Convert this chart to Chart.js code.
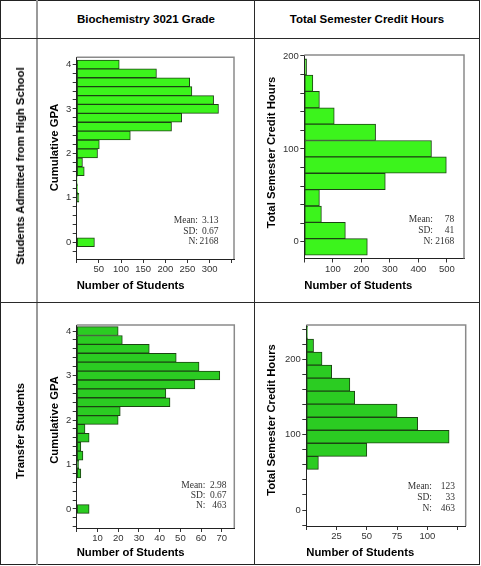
<!DOCTYPE html>
<html>
<head>
<meta charset="utf-8">
<title>Cumulative GPA and credit hours</title>
<script src="https://cdn.jsdelivr.net/npm/chart.js@4.4.0/dist/chart.umd.min.js"></script>
<style>
  html, body { margin: 0; padding: 0; background: #fff; }
  body { width: 481px; height: 566px; overflow: hidden; font-family: "Liberation Sans", Arial, sans-serif; }
  #sheet { position: relative; width: 481px; height: 566px; }
  .frame { position: absolute; left: 0; top: 0; width: 478px; height: 563px; border: 1px solid #222; }
  .line { position: absolute; background: #2a2a2a; }
  .col-title { position: absolute; top: 12px; line-height: 14px; text-align: center; font-weight: bold; font-size: 11.5px; color: #000; }
  .row-title { position: absolute; left: 20px; font-weight: bold; font-size: 11.3px; color: #000; white-space: nowrap;
               will-change: transform; transform: translate(-50%, -50%) rotate(-90deg); }
  canvas { position: absolute; }
</style>
</head>
<body>
<div id="sheet">
  <div class="frame"></div>
  <div class="line" style="left:36px;top:0;width:2px;height:565px;background:#9a9a9a"></div>
  <div class="line" style="left:254px;top:0;width:1px;height:565px"></div>
  <div class="line" style="left:0;top:38px;width:480px;height:1px"></div>
  <div class="line" style="left:0;top:302px;width:480px;height:1px"></div>

  <div class="col-title" style="left:38px;width:216px">Biochemistry 3021 Grade</div>
  <div class="col-title" style="left:255px;width:224px">Total Semester Credit Hours</div>
  <div class="row-title" style="top:166px">Students Admitted from High School</div>
  <div class="row-title" style="top:431px">Transfer Students</div>

  <canvas id="hs-gpa" width="215" height="262" style="left:39px;top:39px"></canvas>
  <canvas id="hs-credit" width="222" height="262" style="left:256px;top:39px"></canvas>
  <canvas id="tr-gpa" width="215" height="261" style="left:39px;top:303px"></canvas>
  <canvas id="tr-credit" width="222" height="261" style="left:256px;top:303px"></canvas>
</div>

<script>
// ---------------------------------------------------
// Data (bin centres + student counts per bin)
// ---------------------------------------------------
const gpaBins = [4.0, 3.8, 3.6, 3.4, 3.2, 3.0, 2.8, 2.6, 2.4, 2.2, 2.0, 1.8, 1.6, 1.4, 1.2, 1.0, 0.8, 0.0];
const hsGpaCounts = [96, 180, 255, 260, 309, 320, 237, 214, 121, 51, 47, 13, 17, 1, 2, 5, null, 40];
const trGpaCounts = [20, 22, 35, 48, 59, 69, 57, 43, 45, 21, 20, 4, 6, 2, 3, 1, 2, 6];

const hsCreditBins = [188.2, 170.6, 153.0, 135.4, 117.8, 100.2, 82.6, 65.0, 47.4, 29.8, 12.2, -5.4];
const hsCreditCounts = [8, 30, 53, 105, 250, 446, 498, 284, 53, 60, 144, 221];

const trCreditBins = [235.6, 218.3, 201.0, 183.7, 166.4, 149.1, 131.8, 114.5, 97.2, 79.9, 62.6];
const trCreditCounts = [1, 6, 13, 21, 36, 40, 75, 92, 118, 50, 10];

// tick labels that are actually printed
const gpaTickLabels = [0, 1, 2, 3, 4];
const creditTickLabels = [0, 100, 200];
const hsGpaCountLabels = [50, 100, 150, 200, 250, 300];
const hsCreditCountLabels = [100, 200, 300, 400, 500];
const trGpaCountLabels = [10, 20, 30, 40, 50, 60, 70];
const trCreditCountLabels = [25, 50, 75, 100];

// summary boxes
const statNames = ['Mean:', 'SD:', 'N:'];
const hsGpaStats = ['3.13', '0.67', '2168'];
const hsCreditStats = ['78', '41', '2168'];
const trGpaStats = ['2.98', '0.67', '463'];
const trCreditStats = ['123', '33', '463'];

// ---------------------------------------------------
Chart.defaults.font.family = '"Liberation Sans", Arial, sans-serif';
Chart.defaults.color = '#333';

const labelFor = (v, list) => {
  const hit = list.find(t => Math.abs(t - v) < 1e-6);
  return hit === undefined ? '' : String(hit);
};

// grey box on top/right, rotated y title and the stats text
const panelDeco = {
  id: 'panelDeco',
  afterDraw(chart, args, o) {
    const { ctx, chartArea: a } = chart;
    ctx.save();
    ctx.strokeStyle = '#8a8a8a';
    ctx.lineWidth = 1.5;
    ctx.beginPath();
    ctx.moveTo(a.left, a.top);
    ctx.lineTo(a.right, a.top);
    ctx.lineTo(a.right, a.bottom);
    ctx.stroke();

    ctx.fillStyle = '#000';
    ctx.font = 'bold 11.3px "Liberation Sans", Arial, sans-serif';
    ctx.textAlign = 'center';
    ctx.textBaseline = 'middle';
    ctx.translate(o.yTitleX, o.yTitleY);
    ctx.rotate(-Math.PI / 2);
    ctx.fillText(o.yTitle, 0, 0);
    ctx.setTransform(1, 0, 0, 1, 0, 0);

    ctx.font = '9.5px "Liberation Serif", "Times New Roman", serif';
    ctx.fillStyle = '#333';
    ctx.textAlign = 'right';
    statNames.forEach((name, i) => {
      ctx.fillText(name, o.labelRight, o.rows[i]);
      ctx.fillText(o.stats[i], o.valueRight, o.rows[i]);
    });
    ctx.restore();
  }
};

const makePanel = (id, c) => new Chart(document.getElementById(id), {
  type: 'bar',
  data: {
    datasets: [{
      data: c.bins.map((b, i) => ({ y: b, x: c.counts[i] })),
      backgroundColor: c.fill,
      borderColor: '#1c4413',
      borderWidth: 1,
      borderSkipped: false,
      barPercentage: 1,
      categoryPercentage: 1
    }]
  },
  options: {
    indexAxis: 'y',
    responsive: false,
    animation: false,
    layout: { padding: c.pad },
    plugins: {
      legend: { display: false },
      tooltip: { enabled: false },
      panelDeco: c.deco
    },
    scales: {
      y: {
        type: 'linear',
        min: c.yMin,
        max: c.yMax,
        offset: false,
        afterFit: (s) => { s.width = c.yWidth; },
        grid: { offset: false, drawOnChartArea: false, tickLength: 4, tickColor: '#333' },
        border: { color: '#222', width: 1 },
        ticks: {
          stepSize: c.yStep, autoSkip: false, includeBounds: false, padding: 1.5,
          font: { size: 9.5 }, color: '#333',
          callback: (v) => labelFor(v, c.yLabels)
        }
      },
      x: {
        type: 'linear',
        min: 0,
        max: c.xMax,
        afterFit: (s) => { s.height = c.xHeight; },
        grid: { drawOnChartArea: false, tickLength: 4, tickColor: '#333' },
        border: { color: '#222', width: 1 },
        ticks: {
          stepSize: c.xStep, autoSkip: false, includeBounds: false, maxRotation: 0, padding: 1,
          font: { size: 9.5 }, color: '#333',
          callback: (v) => labelFor(v, c.xLabels)
        },
        title: {
          display: true, text: 'Number of Students', align: 'start', color: '#000',
          font: { size: 11.3, weight: 'bold', lineHeight: 1.2 },
          padding: { top: 0, bottom: c.xTitlePad }
        }
      }
    }
  },
  plugins: [panelDeco]
});

const topFill = '#3cf41c';
const bottomFill = '#2bcc22';

makePanel('hs-gpa', {
  bins: gpaBins, counts: hsGpaCounts, fill: topFill,
  pad: { left: 0, top: 18.3, right: 20, bottom: 0 },
  yWidth: 37.7, xHeight: 42, xTitlePad: 8.2,
  yMin: -0.375, yMax: 4.16, yStep: 0.2, yLabels: gpaTickLabels,
  xMax: 355, xStep: 50, xLabels: hsGpaCountLabels,
  deco: { yTitle: 'Cumulative GPA', yTitleX: 16, yTitleY: 108.5,
          stats: hsGpaStats, labelRight: 159, valueRight: 179.5, rows: [181, 192, 202.7] }
});

makePanel('hs-credit', {
  bins: hsCreditBins, counts: hsCreditCounts, fill: topFill,
  pad: { left: 0, top: 16, right: 14, bottom: 0 },
  yWidth: 48.3, xHeight: 42.5, xTitlePad: 8.2,
  yMin: -17.9, yMax: 201, yStep: 20, yLabels: creditTickLabels,
  xMax: 560, xStep: 100, xLabels: hsCreditCountLabels,
  deco: { yTitle: 'Total Semester Credit Hours', yTitleX: 16.3, yTitleY: 113.5,
          stats: hsCreditStats, labelRight: 177, valueRight: 198.3, rows: [180.3, 191.3, 202.3] }
});

makePanel('tr-gpa', {
  bins: gpaBins, counts: trGpaCounts, fill: bottomFill,
  pad: { left: 0, top: 22, right: 19.7, bottom: 0 },
  yWidth: 37.7, xHeight: 36, xTitlePad: 4.2,
  yMin: -0.427, yMax: 4.135, yStep: 0.2, yLabels: gpaTickLabels,
  xMax: 76, xStep: 10, xLabels: trGpaCountLabels,
  deco: { yTitle: 'Cumulative GPA', yTitleX: 16, yTitleY: 117,
          stats: trGpaStats, labelRight: 166.5, valueRight: 187.5, rows: [182.7, 192.5, 202.3] }
});

makePanel('tr-credit', {
  bins: trCreditBins, counts: trCreditCounts, fill: bottomFill,
  pad: { left: 0, top: 22, right: 12.3, bottom: 0 },
  yWidth: 50.3, xHeight: 38, xTitlePad: 3.9,
  yMin: -21.2, yMax: 245.5, yStep: 20, yLabels: creditTickLabels,
  xMax: 131.7, xStep: 25, xLabels: trCreditCountLabels,
  deco: { yTitle: 'Total Semester Credit Hours', yTitleX: 16.3, yTitleY: 117,
          stats: trCreditStats, labelRight: 176, valueRight: 199, rows: [183.7, 194.3, 205.3] }
});
</script>
</body>
</html>
